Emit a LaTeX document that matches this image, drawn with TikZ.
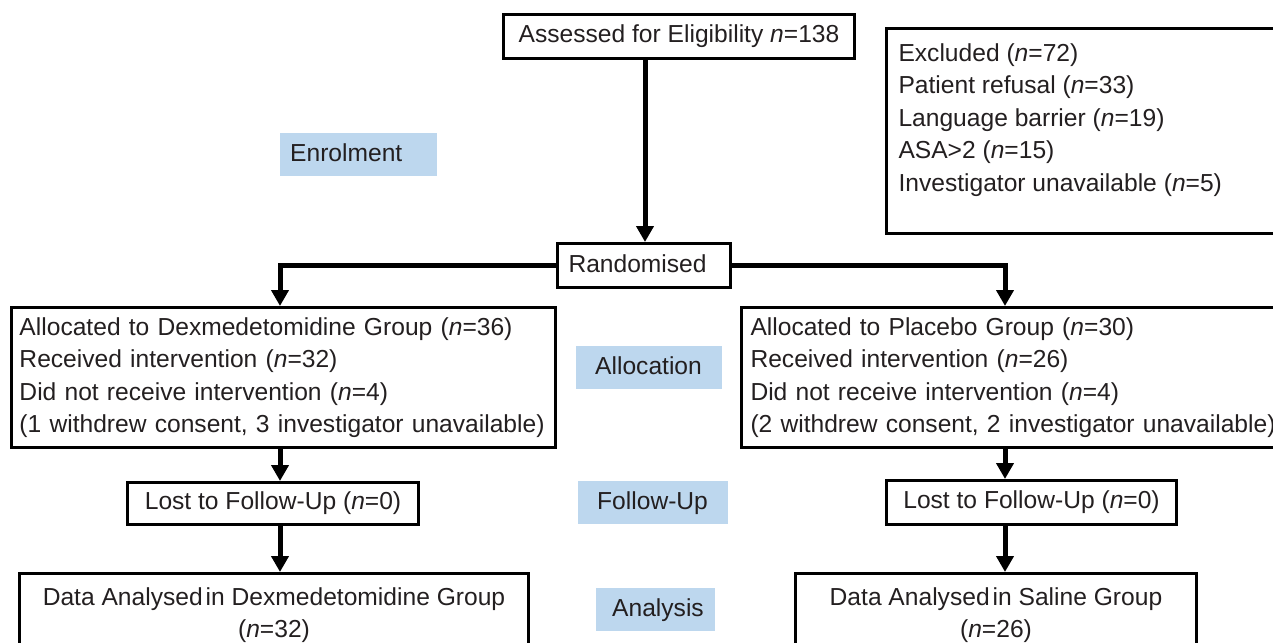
\documentclass[tikz,border=0pt]{standalone}
\usepackage{fontspec}
\setmainfont{Liberation Sans}
\usetikzlibrary{arrows.meta}
\definecolor{phaseblue}{RGB}{189,215,238}
\definecolor{ink}{RGB}{35,31,32}
\newcommand{\phaselabel}[3]{\makebox[#1][l]{\hspace*{#2}\strut #3}}
\begin{document}
\begin{tikzpicture}[x=1pt,y=-1pt,
  every node/.style={font=\fontsize{24.6}{32.5}\selectfont, text=ink},
  box/.style={draw=black, line width=3pt, inner sep=0pt, anchor=north west},
  phase/.style={fill=phaseblue, inner sep=0pt, anchor=north west, minimum height=43pt},
  arr/.style={line width=5pt, -{Triangle[width=17pt,length=16pt]}},
  ]
\useasboundingbox (0,0) rectangle (1273,642);
\clip (0,0) rectangle (1273,642);

% main boxes
\node[box, minimum width=351pt, minimum height=44pt] (assess) at (502,13)
  {Assessed for Eligibility \textit{n}=138};
\node[box, inner xsep=12pt, inner ysep=10pt] (excl) at (885,27)
  {\parbox[t][185pt][t]{400pt}{\strut Excluded (\textit{n}=72)\\
   Patient refusal (\textit{n}=33)\\
   Language barrier (\textit{n}=19)\\
   ASA>2 (\textit{n}=15)\\
   Investigator unavailable (\textit{n}=5)}};
\node[box, minimum height=44pt] (rand) at (556,242)
  {\phaselabel{173pt}{11pt}{Randomised}};
\node[box, align=left, text width=528pt, inner xsep=8pt, minimum height=140pt] (alloL) at (10,306)
  {Allocated to Dexmedetomidine Group (\textit{n}=36)\\
   Received intervention (\textit{n}=32)\\
   Did not receive intervention (\textit{n}=4)\\
   (1 withdrew consent, 3 investigator unavailable)};
\node[box, align=left, text width=540pt, inner xsep=9pt, minimum height=140pt] (alloR) at (740,306)
  {Allocated to Placebo Group (\textit{n}=30)\\
   Received intervention (\textit{n}=26)\\
   Did not receive intervention (\textit{n}=4)\\
   (2 withdrew consent, 2 investigator unavailable)};
\node[box, minimum width=291pt, minimum height=42pt] (lostL) at (126,481)
  {Lost to Follow-Up (\textit{n}=0)};
\node[box, minimum width=290pt, minimum height=44pt] (lostR) at (885,479)
  {Lost to Follow-Up (\textit{n}=0)};
\node[box, inner ysep=9pt] (dataL) at (18,572)
  {\parbox[t][90pt][t]{509pt}{\centering\strut Data Analysed\hspace{3pt}in Dexmedetomidine Group\\ (\textit{n}=32)}};
\node[box, inner ysep=9pt] (dataR) at (794,572)
  {\parbox[t][90pt][t]{401pt}{\centering\strut Data Analysed\hspace{3pt}in Saline Group\\ (\textit{n}=26)}};

% phase labels
\node[phase] (enrol) at (280,133) {\phaselabel{157pt}{10pt}{Enrolment}};
\node[phase] (alloc) at (576,346) {\phaselabel{146pt}{19pt}{Allocation}};
\node[phase] (follow) at (578,481) {\phaselabel{150pt}{19pt}{Follow-Up}};
\node[phase] (analysis) at (596,588) {\phaselabel{119pt}{16pt}{Analysis}};

% connector columns
\coordinate (colM) at (645,0);
\coordinate (colL) at (280,0);
\coordinate (colR) at (1005,0);

\draw[arr] (assess.south -| colM) -- (rand.north -| colM);
\draw[arr] (rand.west) -| (alloL.north -| colL);
\draw[arr] (rand.east) -| (alloR.north -| colR);
\draw[arr] (alloL.south -| colL) -- (lostL.north -| colL);
\draw[arr] (lostL.south -| colL) -- (dataL.north -| colL);
\draw[arr] (alloR.south -| colR) -- (lostR.north -| colR);
\draw[arr] (lostR.south -| colR) -- (dataR.north -| colR);
\end{tikzpicture}
\end{document}
